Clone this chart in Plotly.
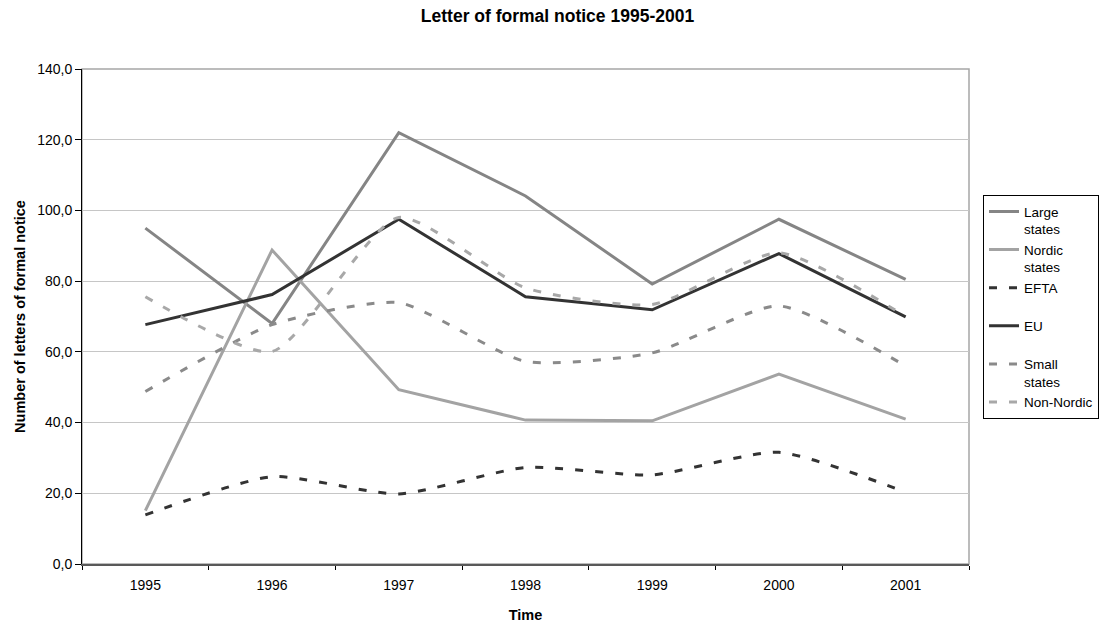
import plotly.graph_objects as go

# Letters of formal notice per year, 1995-2001
years = ["1995", "1996", "1997", "1998", "1999", "2000", "2001"]

large_states = [95.0, 68.0, 122.0, 104.1, 79.2, 97.5, 80.5]
nordic_states = [15.1, 88.8, 49.3, 40.7, 40.5, 53.7, 41.0]
efta = [13.9, 24.7, 19.8, 27.3, 25.2, 31.6, 20.3]
eu = [67.7, 76.2, 97.5, 75.6, 71.9, 87.8, 69.9]
small_states = [48.8, 67.7, 73.9, 57.3, 59.7, 73.0, 56.0]
non_nordic = [75.6, 60.1, 98.0, 78.1, 73.4, 88.0, 70.0]

FONT = "Liberation Sans, Arial, sans-serif"
DASH = "8px,12px"

series = [
    ("Large<br>states", large_states, "#858585", "solid", "linear"),
    ("Nordic<br>states", nordic_states, "#a3a3a3", "solid", "linear"),
    ("EFTA<br>&nbsp;", efta, "#333333", DASH, "spline"),
    ("EU<br>&nbsp;", eu, "#333333", "solid", "linear"),
    ("Small<br>states", small_states, "#8a8a8a", DASH, "spline"),
    ("Non-Nordic", non_nordic, "#a8a8a8", DASH, "spline"),
]

fig = go.Figure()
for name, values, color, dash, shape in series:
    fig.add_trace(go.Scatter(
        x=years, y=values, name=name, mode="lines",
        line=dict(color=color, width=3, dash=dash, shape=shape,
                  smoothing=0.6 if shape == "spline" else None),
        hoverinfo="x+y+name",
    ))

# Plot-area frame (grey, Excel style) behind the data
fig.add_shape(type="rect", xref="x domain", yref="y domain",
              x0=0, x1=1, y0=0, y1=1, layer="below",
              line=dict(color="#a6a6a6", width=1.5))

fig.update_layout(
    width=1115, height=624,
    margin=dict(l=82, r=146, t=69, b=60, autoexpand=False),
    paper_bgcolor="white", plot_bgcolor="white",
    separators=", ",
    font=dict(family=FONT, size=14, color="black"),
    title=dict(text="<b>Letter of formal notice 1995-2001</b>",
               x=0.5, xref="container", xanchor="center",
               y=1 - 16 / 624, yref="container", yanchor="middle",
               font=dict(family=FONT, size=17.5, color="black")),
    legend=dict(
        x=1.0158, y=0.745, xanchor="left", yanchor="top",
        bordercolor="black", borderwidth=1, bgcolor="white",
        font=dict(family=FONT, size=13.5, color="black"),
        valign="top", itemwidth=30, tracegroupgap=0,
    ),
    showlegend=True,
)

fig.update_xaxes(
    type="category", range=[-0.5, 6.5], automargin=False,
    tickson="boundaries", ticks="outside", ticklen=4, tickcolor="black",
    ticklabelstandoff=7,
    showline=True, linecolor="#595959", linewidth=2,
    showgrid=False, zeroline=False,
    tickfont=dict(family=FONT, size=14, color="black"),
    title=dict(text="<b>Time</b>", standoff=18,
               font=dict(family=FONT, size=14.5, color="black")),
)

fig.update_yaxes(
    range=[0, 140], dtick=20, tickformat=".1f", automargin=False,
    ticks="outside", ticklen=6, tickcolor="black",
    showline=True, linecolor="black", linewidth=1,
    showgrid=True, gridcolor="#c6c6c6", gridwidth=1,
    zeroline=False,
    tickfont=dict(family=FONT, size=14, color="black"),
    title=dict(text="<b>Number of letters of formal notice</b>", standoff=8,
               font=dict(family=FONT, size=14.5, color="black")),
)

fig.write_html("out.html")
